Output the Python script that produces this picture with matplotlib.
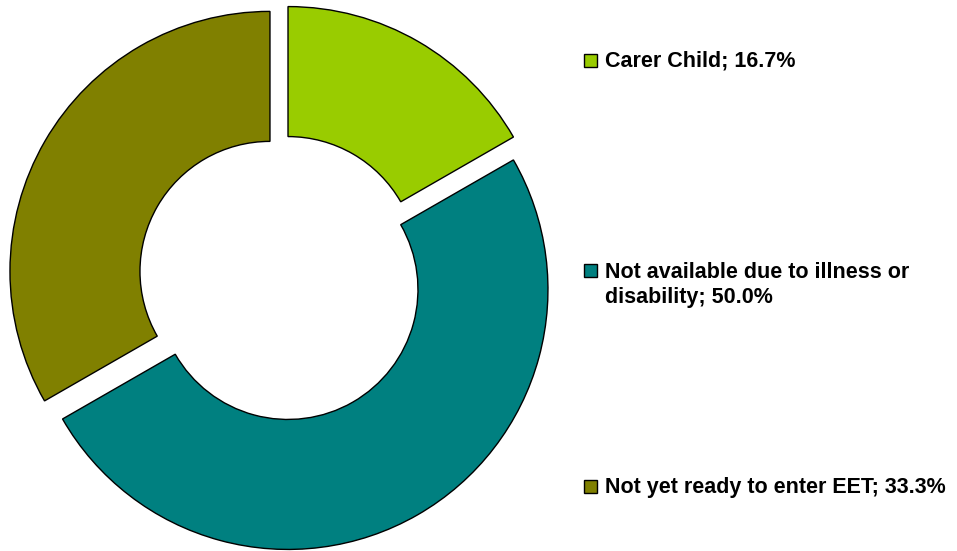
import matplotlib
matplotlib.use("Agg")
import matplotlib.pyplot as plt
from matplotlib.patches import Rectangle

# Data
categories = ["Carer Child", "Not available due to illness or\ndisability", "Not yet ready to enter EET"]
shares = [16.7, 50.0, 33.3]
colors = ["#99CC00", "#008080", "#808000"]

W, H = 957, 551
plt.rcParams['font.family'] = ['Liberation Sans', 'DejaVu Sans']

fig = plt.figure(figsize=(W / 100, H / 100), dpi=100)
ax = fig.add_axes([0, 0, 1, 1])

R = 260
ax.pie(shares, colors=colors, startangle=90, counterclock=False,
       explode=[13.2] * len(shares), radius=R, center=(281.4, H - 278),
       wedgeprops=dict(width=R * 0.5, edgecolor="black", linewidth=1.0))

ax.set_xlim(0, W)
ax.set_ylim(0, H)
ax.set_aspect("equal")
ax.axis("off")

# legend drawn by hand
legend_y = [60, 270, 486]  # square centres (pixels from top)
line_gap = 26
for cat, val, col, yc in zip(categories, shares, colors, legend_y):
    ax.add_patch(Rectangle((584, H - yc - 6.5), 13, 13, facecolor=col,
                           edgecolor="black", linewidth=1.0))
    nl = cat.count("\n")
    # va='baseline' anchors the last line of multi-line text
    ax.text(605, H - (yc + 7 + nl * line_gap), f"{cat}; {val:.1f}%", fontsize=15.5,
            fontweight="bold", va="baseline", ha="left", linespacing=1.25)

fig.savefig("out.png", dpi=100)
